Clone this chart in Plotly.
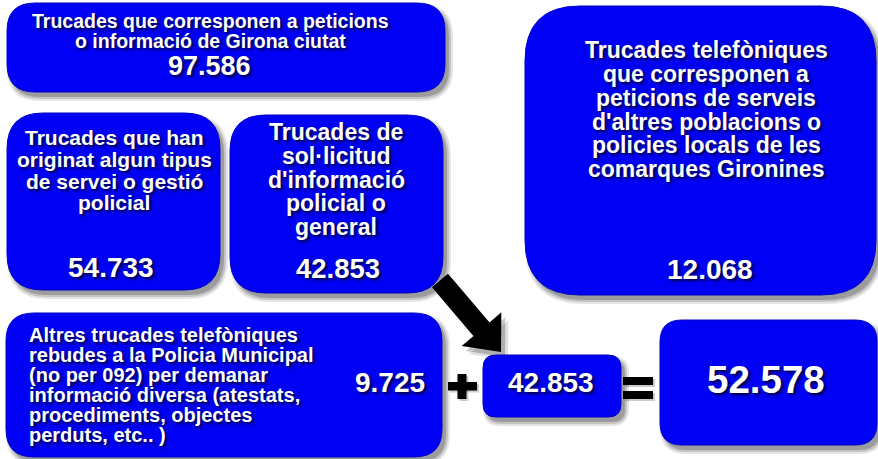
import plotly.graph_objects as go

# ---- data (text and values of the infographic) ----
title_top = ["Trucades que corresponen a peticions", "o informació de Girona ciutat"]
value_top = 97586
title_service = ["Trucades que han", "originat algun tipus", "de servei o gestió", "policial"]
value_service = 54733
title_info = ["Trucades de", "sol·licitud", "d'informació", "policial o", "general"]
value_info = 42853
title_other_towns = ["Trucades telefòniques", "que corresponen a", "peticions de serveis",
                     "d'altres poblacions o", "policies locals de les", "comarques Gironines"]
value_other_towns = 12068
title_other_calls = ["Altres trucades telefòniques", "rebudes a la Policia Municipal",
                     "(no per 092) per demanar", "informació diversa (atestats,",
                     "procediments, objectes", "perduts, etc.. )"]
value_other_calls = 9725
value_sum = value_other_calls + value_info  # 52.578


def fmt(v):
    return f"{v:,}".replace(",", ".")


W, H = 878, 459
BLUE = "#0000F5"
FONT = "Liberation Sans, Arial, sans-serif"
TSHADOW = "2px 2px 3px rgba(0,0,50,0.95)"

shapes = []
annotations = []


def rrect_path(x0, y0, x1, y1, r):
    return (f"M {x0+r},{y0} L {x1-r},{y0} Q {x1},{y0} {x1},{y0+r} "
            f"L {x1},{y1-r} Q {x1},{y1} {x1-r},{y1} L {x0+r},{y1} "
            f"Q {x0},{y1} {x0},{y1-r} L {x0},{y0+r} Q {x0},{y0} {x0+r},{y0} Z")


def box(x0, y0, x1, y1, r):
    # soft drop shadow
    for g, op in [(4, 0.10), (2, 0.14), (0, 0.20)]:
        shapes.append(dict(type="path", xref="x", yref="y",
                           path=rrect_path(x0 + 4 - g, y0 + 5 - g, x1 + 4 + g, y1 + 5 + g, r + g),
                           fillcolor=f"rgba(0,0,0,{op})", line=dict(width=0), layer="below"))
    shapes.append(dict(type="path", xref="x", yref="y", path=rrect_path(x0, y0, x1, y1, r),
                       fillcolor=BLUE, line=dict(color="#0000C8", width=1), layer="below"))


def text(x, baseline, s, size, anchor="center"):
    annotations.append(dict(x=x, y=baseline - 0.34 * size, xref="x", yref="y", text=s,
                            showarrow=False, xanchor=anchor, yanchor="middle",
                            font=dict(family=FONT, size=size, color="white", weight="bold",
                                      shadow=TSHADOW)))


# ---- arrow (drawn first, below the boxes) ----
S = (440.0, 280.5)
tip = (501.0, 352.0)
dx, dy = tip[0] - S[0], tip[1] - S[1]
L = (dx * dx + dy * dy) ** 0.5
d = (dx / L, dy / L)
p = (d[1], -d[0])
hl, hw, sw = 30.0, 26.0, 10.5
B = (tip[0] - hl * d[0], tip[1] - hl * d[1])
pts = [
    (S[0] + sw * p[0], S[1] + sw * p[1]),
    (B[0] + sw * p[0], B[1] + sw * p[1]),
    (B[0] + hw * p[0], B[1] + hw * p[1]),
    tip,
    (B[0] - hw * p[0], B[1] - hw * p[1]),
    (B[0] - sw * p[0], B[1] - sw * p[1]),
    (S[0] - sw * p[0], S[1] - sw * p[1]),
]


def poly(points, ox=0, oy=0):
    return "M " + " L ".join(f"{x+ox:.1f},{y+oy:.1f}" for x, y in points) + " Z"


for g, op in [(3, 0.12), (0, 0.22)]:
    shapes.append(dict(type="path", xref="x", yref="y", path=poly(pts, 4 + g, 5 + g),
                       fillcolor=f"rgba(0,0,0,{op})", line=dict(width=0), layer="below"))
shapes.append(dict(type="path", xref="x", yref="y", path=poly(pts), fillcolor="black",
                   line=dict(width=0), layer="below"))

# ---- boxes ----
box(7, 3, 445, 92, 28)
box(7, 113, 220, 290, 36)
box(230, 115, 443, 293, 36)
box(525, 6, 876, 295, 55)
box(6, 313, 442, 457, 28)
box(483, 355, 621, 417, 13)
box(660, 320, 877, 445, 22)

# ---- plus and equal signs ----
for x0, y0, x1, y1 in [(457.5, 374, 466.5, 399), (448, 382, 477, 390.5),
                       (623, 377, 653, 385), (623, 391, 653, 399)]:
    shapes.append(dict(type="rect", xref="x", yref="y", x0=x0 + 2, y0=y0 + 2, x1=x1 + 2, y1=y1 + 2,
                       fillcolor="rgba(0,0,0,0.2)", line=dict(width=0), layer="below"))
    shapes.append(dict(type="rect", xref="x", yref="y", x0=x0, y0=y0, x1=x1, y1=y1,
                       fillcolor="black", line=dict(width=0), layer="below"))

# ---- texts ----
for i, s in enumerate(title_top):
    text(210, 28 + 20 * i, s, 19.5)
text(209, 75, fmt(value_top), 27)

for i, s in enumerate(title_service):
    text(114, 145 + 21.7 * i, s, 21)
text(111, 277, fmt(value_service), 28)

for i, s in enumerate(title_info):
    text(336, 140 + 23.7 * i, s, 23)
text(338, 278, fmt(value_info), 27.5)

for i, s in enumerate(title_other_towns):
    text(706, 58 + 23.8 * i, s, 23)
text(710, 279, fmt(value_other_towns), 28)

for i, s in enumerate(title_other_calls):
    text(27, 342 + 20 * i, s, 20, anchor="left")
text(390, 392, fmt(value_other_calls), 28)
text(551, 392, fmt(value_info), 28)
text(766, 393, fmt(value_sum), 38.5)

fig = go.Figure()
fig.add_trace(go.Scatter(x=[], y=[], showlegend=False))
fig.update_layout(
    width=W, height=H, autosize=False,
    margin=dict(l=0, r=0, t=0, b=0, pad=0),
    paper_bgcolor="white", plot_bgcolor="white",
    xaxis=dict(range=[0, W], visible=False, fixedrange=True),
    yaxis=dict(range=[H, 0], visible=False, fixedrange=True),
    shapes=shapes, annotations=annotations, showlegend=False,
)
fig.write_html("out.html", config={"displayModeBar": False},
               post_script="document.body.style.margin='0';document.body.style.overflow='hidden';")
